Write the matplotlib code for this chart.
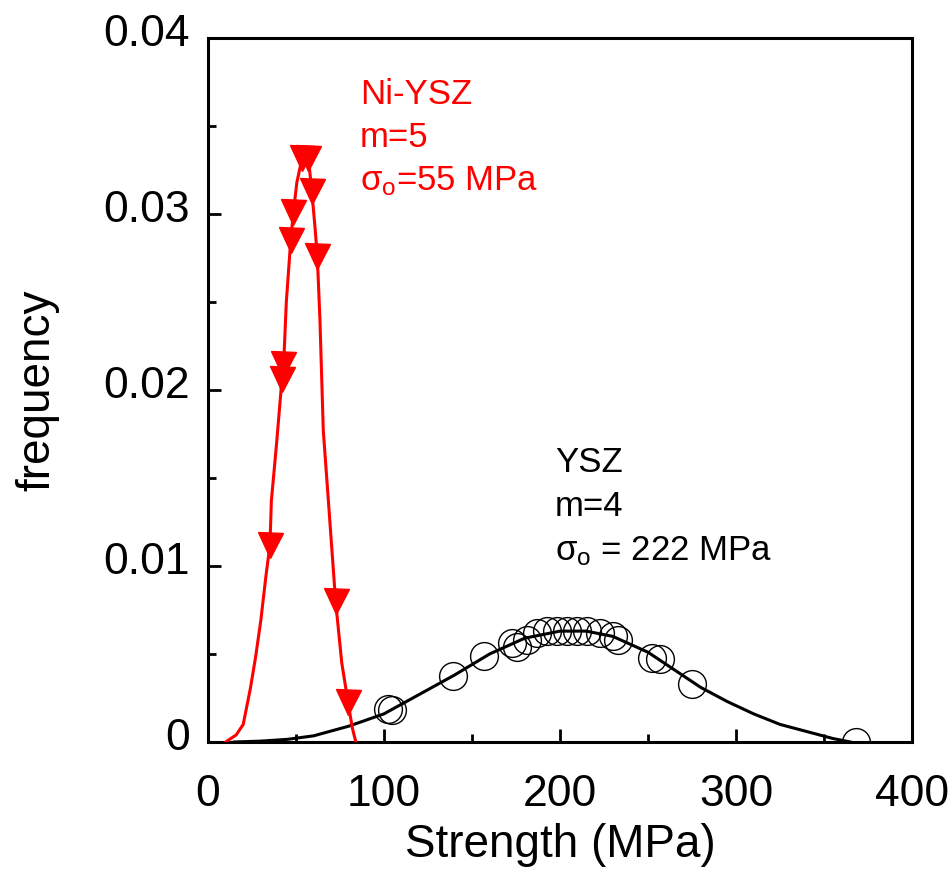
import matplotlib
matplotlib.use("Agg")
import matplotlib.pyplot as plt
import matplotlib.transforms as mtransforms

plt.rcParams['font.family'] = ['Liberation Sans', 'DejaVu Sans']
plt.rcParams['mathtext.default'] = 'regular'

# Ni-YSZ data (red triangles)
niysz_x = [35.2, 41.9, 42.8, 47.0, 48.5, 53.6, 57.0, 58.9, 62.1, 72.5, 79.5]
niysz_y = [0.0112, 0.0206, 0.0215, 0.0285, 0.0301, 0.0332, 0.0332, 0.0313, 0.0276, 0.0080, 0.0023]

# Ni-YSZ fitted curve
niysz_fit_x = [10, 16, 20, 24, 27, 30, 33, 35.2, 36, 39, 42, 43, 44.5, 47, 48.5, 50.5, 53.5,
               57, 59, 61, 62.1, 63.6, 65.5, 68.4, 72.5, 76, 79.5, 82, 84]
niysz_fit_y = [0.0, 0.0004, 0.0010, 0.0030, 0.0048, 0.0069, 0.0095, 0.0112, 0.0137, 0.0170,
               0.0206, 0.0215, 0.0250, 0.0285, 0.0301, 0.0318, 0.0332, 0.0332, 0.0313, 0.0290,
               0.0276, 0.0240, 0.0177, 0.0137, 0.0080, 0.0045, 0.0023, 0.0008, 0.0]

# YSZ data (black open circles)
ysz_x = [102.5, 104.4, 139.0, 157.0, 172.5, 175.4, 181.0, 186.8, 192.4, 198.1, 203.8, 209.5,
         215.2, 222.7, 230.3, 233.1, 252.0, 256.8, 274.8, 368.0]
ysz_y = [0.0019, 0.0018, 0.00375, 0.0049, 0.0056, 0.0054, 0.0058, 0.0062, 0.0063, 0.0063,
         0.0063, 0.0063, 0.0063, 0.0062, 0.0060, 0.0058, 0.0048, 0.0047, 0.0033, 0.0]

# YSZ fitted curve
ysz_fit_x = [15, 30, 45, 60, 80, 100, 120, 140, 160, 180, 200, 215, 230, 250, 265, 280, 295,
             310, 325, 340, 355, 365]
ysz_fit_y = [0.0, 0.00005, 0.00015, 0.00035, 0.0009, 0.0016, 0.0027, 0.0038, 0.0050, 0.0059,
             0.0063, 0.0063, 0.0060, 0.0051, 0.0041, 0.0031, 0.0023, 0.0016, 0.0010, 0.0006,
             0.0002, 0.0]

x_ticks = [0, 100, 200, 300, 400]
x_tick_labels = ['0', '100', '200', '300', '400']
y_ticks = [0, 0.01, 0.02, 0.03, 0.04]
y_tick_labels = ['0', '0.01', '0.02', '0.03', '0.04']

fig = plt.figure(figsize=(9.53, 8.83), dpi=100)
ax = fig.add_axes([208 / 953, 141 / 883, 704 / 953, 704 / 883])

red = '#ff0000'
ax.plot(ysz_fit_x, ysz_fit_y, color='black', lw=2.2, zorder=2)
ax.plot(ysz_x, ysz_y, linestyle='none', marker='o', markersize=20, markerfacecolor='none',
        markeredgecolor='black', markeredgewidth=1.0, zorder=3)
ax.plot(niysz_fit_x, niysz_fit_y, color=red, lw=2.2, zorder=4)
ax.plot(niysz_x, niysz_y, linestyle='none', marker='v', markersize=18, color=red, zorder=5)

ax.set_xlim(0, 400)
ax.set_ylim(0, 0.04)
ax.set_xticks(x_ticks)
ax.set_xticklabels(x_tick_labels)
ax.set_yticks(y_ticks)
ax.set_yticklabels(y_tick_labels)
ax.set_xticks([50, 150, 250, 350], minor=True)
ax.set_yticks([0.005, 0.015, 0.025, 0.035], minor=True)
ax.tick_params(which='both', direction='in', width=2.0, top=False, right=False)
ax.tick_params(which='major', length=9.5, labelsize=32)
ax.tick_params(which='minor', length=6)
ax.tick_params(axis='x', which='major', pad=23)
ax.tick_params(axis='y', which='major', pad=13)
for s in ax.spines.values():
    s.set_linewidth(2.2)

off = mtransforms.ScaledTranslation(0, 0.08, fig.dpi_scale_trans)
for lab in ax.get_yticklabels():
    lab.set_transform(lab.get_transform() + off)

ax.set_xlabel('Strength (MPa)', fontsize=33, labelpad=6)
ax.set_ylabel('frequency', fontsize=33, labelpad=32)

ax.text(86.4, 0.03625, 'Ni-YSZ', color=red, fontsize=25, va='baseline')
ax.text(86.4, 0.0338, 'm=5', color=red, fontsize=25, va='baseline')
ax.text(86.4, 0.03136, 'σ$_{o}$=55 MPa', color=red, fontsize=25, va='baseline')

ax.text(197.2, 0.01534, 'YSZ', color='black', fontsize=25, va='baseline')
ax.text(197.2, 0.01284, 'm=4', color='black', fontsize=25, va='baseline')
ax.text(197.2, 0.01034, 'σ$_{o}$ = 222 MPa', color='black', fontsize=25, va='baseline')

fig.savefig('out.png', dpi=100)
